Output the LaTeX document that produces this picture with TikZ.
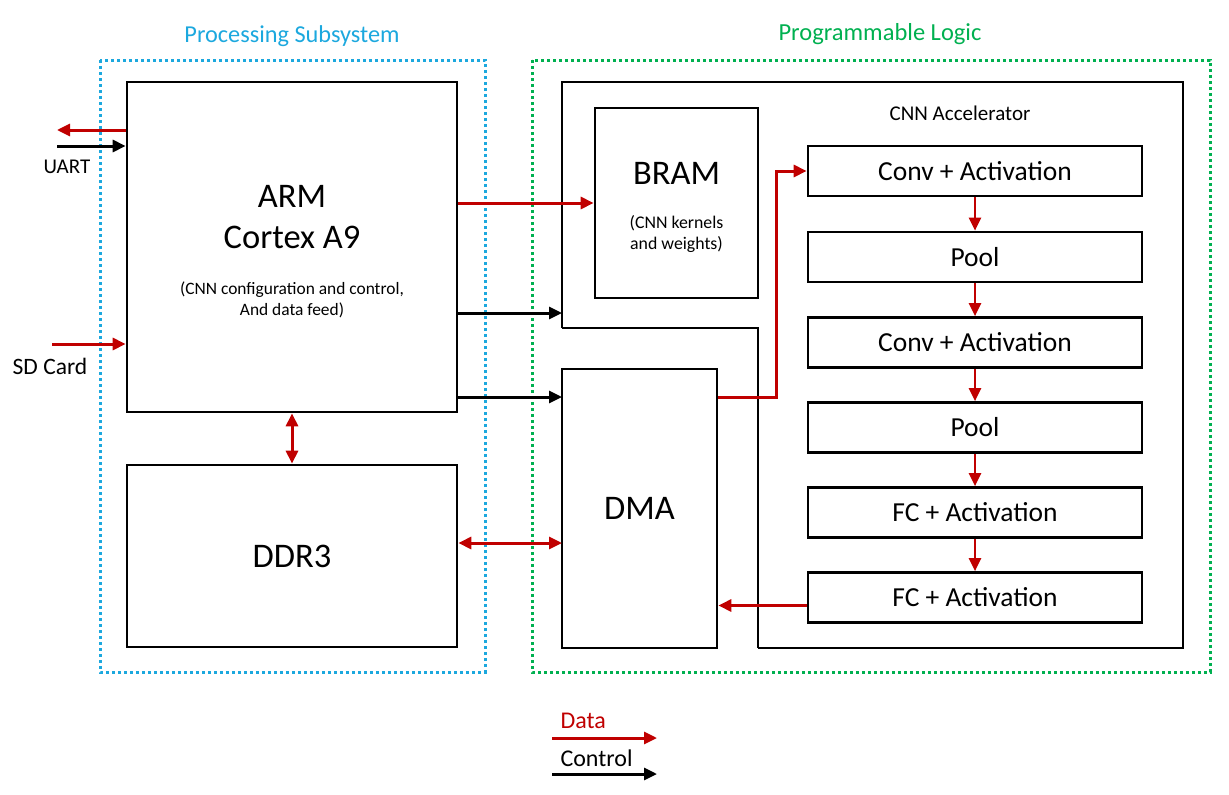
\documentclass[tikz,border=0pt]{standalone}
\usepackage{fontspec}
\setmainfont{Carlito}
\usetikzlibrary{arrows.meta}
\definecolor{datared}{RGB}{192,0,0}
\definecolor{psblue}{RGB}{28,168,222}
\definecolor{plgreen}{RGB}{0,176,80}
\newcommand{\fsz}[2]{\fontsize{#1}{#2}\selectfont}
\tikzset{
  blk/.style={draw, line width=2.7pt, inner sep=0pt},
  layer/.style={blk, minimum width=334pt, minimum height=50pt, font=\fsz{27.5}{33}},
  data/.style={datared, line width=3pt, ->},
  ctrl/.style={black, line width=3pt, ->},
  flow/.style={datared, line width=2.4pt, ->},
  region/.style={line width=3pt, dash pattern=on 3pt off 3pt},
}
\begin{document}
\begin{tikzpicture}[x=1pt,y=-1pt,>={Triangle[length=13pt,width=12pt]}]
\useasboundingbox (0,0) rectangle (1229,795);
\draw[region,psblue] (100,60) rectangle (485,672);
\draw[region,plgreen] (532,60) rectangle (1210,672);
\node[psblue,font=\fsz{24.3}{29}] (pstitle) at (292,36) {Processing Subsystem};
\node[plgreen,font=\fsz{24.5}{29}] (pltitle) at (880,34) {Programmable Logic};

\node[blk,minimum width=330pt,minimum height=330pt] (arm) at (292,247) {};
\node[font=\fsz{34.5}{41},align=center,anchor=base] (armname) at (292,248) {ARM\\Cortex A9};
\node[font=\fsz{17.4}{20.5},align=center,anchor=base] (armnote) at (292,315) {(CNN configuration and control,\\And data feed)};
\node[blk,minimum width=330pt,minimum height=182pt,font=\fsz{34.5}{41}] (ddr) at (292,556) {DDR3};

\node[blk,minimum width=163pt,minimum height=190pt] (bram) at (676.5,203) {};
\node[font=\fsz{34.5}{41},anchor=base] (bramname) at (676.5,184) {BRAM};
\node[font=\fsz{17.8}{21},align=center,anchor=base] (bramnote) at (676.5,249) {(CNN kernels\\and weights)};
\node[blk,minimum width=155pt,minimum height=279pt,font=\fsz{34.5}{41}] (dma) at (639.5,508.5) {DMA};

\draw[line width=2.7pt] (562,328) -- (562,82) -- (1183,82) -- (1183,648) -- (758,648);
\draw[line width=1.6pt] (758,648) -- (758,328) -- (562,328);
\node[font=\fsz{21}{25}] (acctitle) at (960,113) {CNN Accelerator};
\foreach \n/\y/\t in {1/171/Conv + Activation, 2/257/Pool, 3/342.5/Conv + Activation, 4/427.5/Pool, 5/512.5/FC + Activation, 6/597.5/FC + Activation}
  \node[layer] (l\n) at (975,\y) {\t};
\foreach \a/\b in {1/2,2/3,3/4,4/5,5/6}
  \draw[flow] (l\a.south) -- (l\b.north);

\node[font=\fsz{21}{25}] (uart) at (67,167) {UART};
\node[font=\fsz{23.5}{28}] (sdcard) at (50,366) {SD Card};
\coordinate (uartout) at (57,130);
\coordinate (uartin) at (57,146);
\coordinate (sdin) at (52,344);
\coordinate (accin) at (562,313);
\coordinate (dmain) at (562,397);
\coordinate (ddrdma) at (562,543);

\draw[data] (arm.west |- uartout) -- (uartout);
\draw[ctrl] (uartin) -- (arm.west |- uartin);
\draw[data] (sdin) -- (arm.west |- sdin);
\draw[data] (arm.east |- bram) -- (bram.west);
\draw[ctrl] (arm.east |- accin) -- (accin);
\draw[ctrl] (arm.east |- dmain) -- (dmain);
\draw[data,<->] (arm.south) -- (ddr.north);
\draw[data,<->] (ddr.east |- ddrdma) -- (ddrdma);
\draw[data] (dma.east |- dmain) -| ([xshift=-30pt]l1.west) -- (l1.west);
\draw[data] ([yshift=-8pt]l6.west) coordinate (fcout) -- (dma.east |- fcout);

\node[datared,font=\fsz{24}{28},anchor=base west] (datakey) at (557,728) {Data};
\draw[data] ([xshift=-5pt,yshift=-10pt]datakey.base west) -- ++(105,0);
\node[font=\fsz{24}{28},anchor=base west] (ctrlkey) at (557,766) {Control};
\draw[ctrl] ([xshift=-5pt,yshift=-8pt]ctrlkey.base west) -- ++(105,0);
\end{tikzpicture}
\end{document}
